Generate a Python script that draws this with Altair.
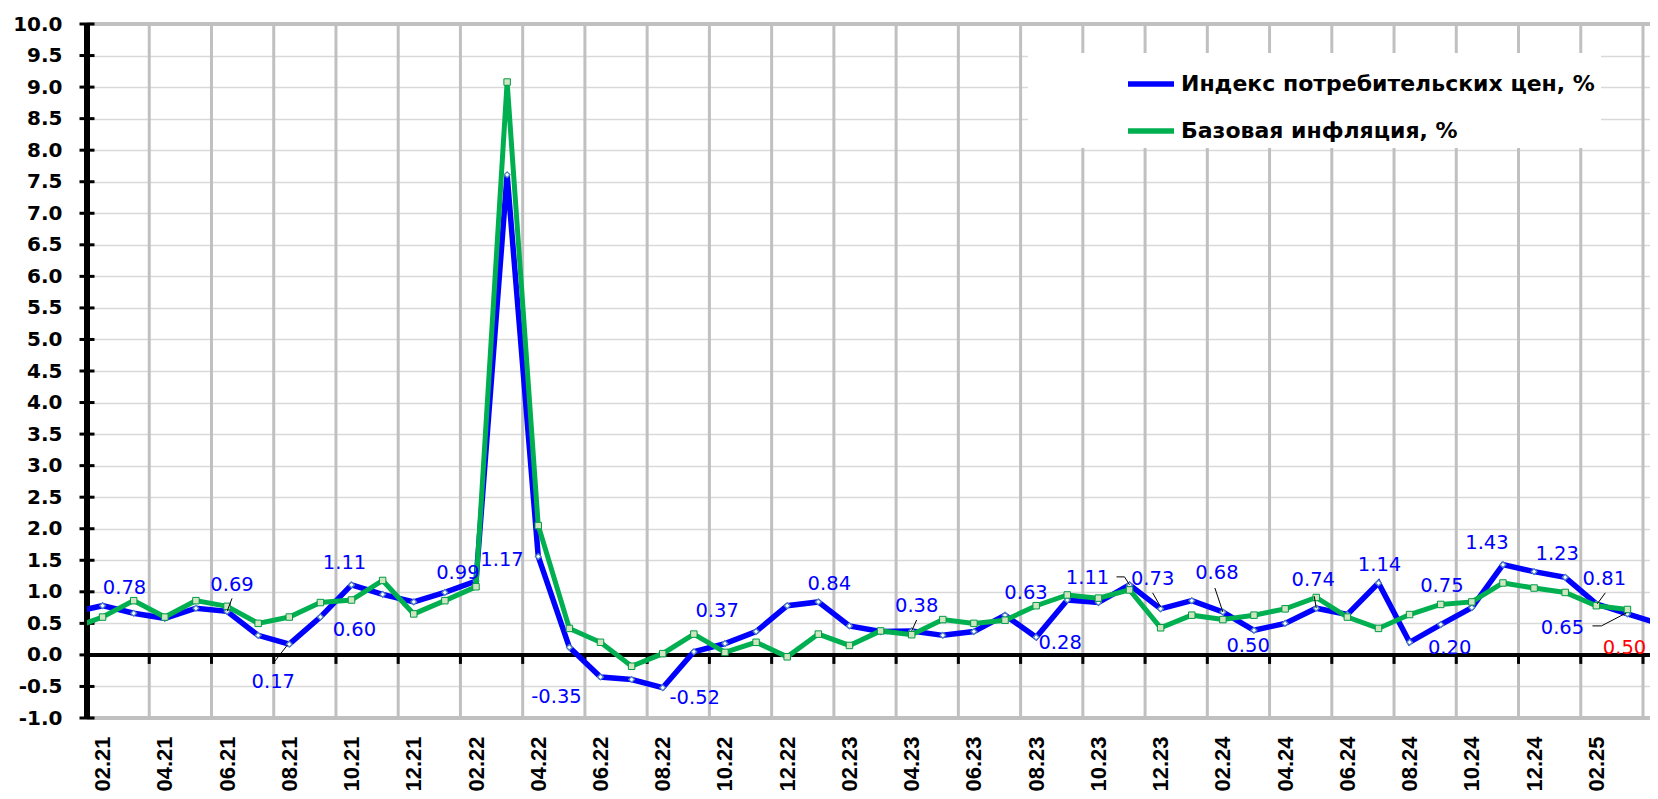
import json
import altair as alt
import pandas as pd

# ---------------- data ----------------
months = ["01.21", "02.21", "03.21", "04.21", "05.21", "06.21", "07.21", "08.21", "09.21", "10.21", "11.21", "12.21",
          "01.22", "02.22", "03.22", "04.22", "05.22", "06.22", "07.22", "08.22", "09.22", "10.22", "11.22", "12.22",
          "01.23", "02.23", "03.23", "04.23", "05.23", "06.23", "07.23", "08.23", "09.23", "10.23", "11.23", "12.23",
          "01.24", "02.24", "03.24", "04.24", "05.24", "06.24", "07.24", "08.24", "09.24", "10.24", "11.24", "12.24",
          "01.25", "02.25", "03.25", "04.25"]

cpi = [0.67, 0.78, 0.66, 0.58, 0.74, 0.69, 0.31, 0.17, 0.60, 1.11, 0.96, 0.84,
       0.99, 1.17, 7.61, 1.56, 0.12, -0.35, -0.39, -0.52, 0.05, 0.18, 0.37, 0.78,
       0.84, 0.46, 0.37, 0.38, 0.31, 0.37, 0.63, 0.28, 0.87, 0.83, 1.11, 0.73,
       0.86, 0.68, 0.39, 0.50, 0.74, 0.64, 1.14, 0.20, 0.48, 0.75, 1.43, 1.32,
       1.23, 0.81, 0.65, 0.50]

core = [0.42, 0.60, 0.86, 0.60, 0.86, 0.77, 0.50, 0.60, 0.83, 0.87, 1.18, 0.65,
        0.86, 1.08, 9.08, 2.05, 0.42, 0.20, -0.18, 0.02, 0.33, 0.04, 0.20, -0.03,
        0.33, 0.15, 0.38, 0.32, 0.56, 0.50, 0.55, 0.78, 0.95, 0.90, 1.03, 0.43,
        0.63, 0.56, 0.63, 0.73, 0.91, 0.60, 0.42, 0.64, 0.80, 0.84, 1.14, 1.06,
        0.99, 0.78, 0.72, None]

series_names = ["Индекс потребительских цен, %", "Базовая инфляция, %"]

y_ticks = [-1.0, -0.5, 0.0, 0.5, 1.0, 1.5, 2.0, 2.5, 3.0, 3.5, 4.0, 4.5, 5.0,
           5.5, 6.0, 6.5, 7.0, 7.5, 8.0, 8.5, 9.0, 9.5, 10.0]

# data labels on the CPI series: month index, pixel offset from the point
label_month = [1, 5, 7, 8, 9, 12, 13, 17, 19, 22, 24, 27, 30, 31, 34, 35, 37, 39, 40, 42, 43, 45, 46, 48, 49, 50, 51]
label_dx = [22, 5, -16, 34, -7, 13, 26, -44, 32, -39, 11, 5, 21, 24, -42, -8, -6, -37, -3, 1, 40, -30, -16, -8, 8, -65, -34]
label_dy = [-18, -26, 38, 13, -22, -19, -21, 20, 10, -21, -18, -25, -22, 6, -7, -30, -39, 23, -28, -18, 6, -22, -22, -23, -25, 14, 25]
label_red = [51]

# leader lines: month index, start offset (px), end offset (px)
leader_month = [5, 7, 27, 34, 34, 35, 37, 40, 49, 50, 50]
leader_from = [(0, 0), (-2, 1), (0, 0), (0, 0), (-5, -8), (0, -2), (0, 0), (0, 0), (1, 0), (-1, -1), (-26, 12)]
leader_to = [(5, -13), (-16, 19), (5, -11), (-5, -8), (-13, -8), (-8, -16), (-8, -24), (-2, -12), (9, -11), (-26, 12), (-35, 12)]

# ---------------- geometry ----------------
PLOT_W, PLOT_H = 1563, 694
X_MIN = 0.5
PX_PER_MONTH = 31.12
X_MAX = X_MIN + PLOT_W / PX_PER_MONTH
Y_MIN, Y_MAX = -1.0, 10.0
PX_PER_UNIT = PLOT_H / (Y_MAX - Y_MIN)

BLUE = "#0000ff"
GREEN = "#00b050"
GRID_V = "#c0c0c0"
GRID_H = "#d9d9d9"

idx = list(range(len(months)))
df_cpi = pd.DataFrame({"m": idx, "v": cpi, "s": series_names[0]})
df_core = pd.DataFrame({"m": idx, "v": core, "s": series_names[1]})
df_grid = pd.DataFrame({"g": [k + 0.5 for k in range(2, len(months), 2)]})
df_yt = pd.DataFrame({"t": y_ticks})

df_lab = pd.DataFrame({
    "lx": [m + dx / PX_PER_MONTH for m, dx in zip(label_month, label_dx)],
    "ly": [cpi[m] - dy / PX_PER_UNIT for m, dy in zip(label_month, label_dy)],
    "txt": [f"{cpi[m]:.2f}" for m in label_month],
    "c": ["#ff0000" if m in label_red else BLUE for m in label_month],
})

df_lead = pd.DataFrame({
    "x1": [m + a[0] / PX_PER_MONTH for m, a in zip(leader_month, leader_from)],
    "y1": [cpi[m] - a[1] / PX_PER_UNIT for m, a in zip(leader_month, leader_from)],
    "x2": [m + b[0] / PX_PER_MONTH for m, b in zip(leader_month, leader_to)],
    "y2": [cpi[m] - b[1] / PX_PER_UNIT for m, b in zip(leader_month, leader_to)],
})

xscale = alt.Scale(domain=[X_MIN, X_MAX], nice=False, zero=False)
yscale = alt.Scale(domain=[Y_MIN, Y_MAX], nice=False, zero=False)

xaxis = alt.Axis(
    values=[i for i in idx if i % 2 == 1],
    labelExpr=json.dumps(months) + "[datum.value]",
    labelAngle=270, labelFont="Liberation Sans", labelFontSize=22, labelFontWeight="bold",
    labelColor="black", labelPadding=18, ticks=False, domain=False, grid=False,
    labelOverlap=False, labelFlush=False, title=None,
)
yaxis = alt.Axis(
    values=y_ticks,
    labelExpr="datum.value < 0 ? '-' + format(-datum.value, '.1f') : format(datum.value, '.1f')",
    labelFont="DejaVu Sans", labelFontSize=20, labelFontWeight="bold", labelColor="black",
    labelPadding=25, ticks=False, domain=False, grid=True, gridColor=GRID_H, gridWidth=1.3,
    labelOverlap=False, labelFlush=False, title=None, tickCount=23,
)


def X(field):
    return alt.X(field, type="quantitative", scale=xscale, axis=xaxis)


def Y(field):
    return alt.Y(field, type="quantitative", scale=yscale, axis=yaxis)


def XD(v):
    return alt.XDatum(v, type="quantitative", scale=xscale, axis=xaxis)


def YD(v):
    return alt.YDatum(v, type="quantitative", scale=yscale, axis=yaxis)


color_enc = alt.Color(
    "s:N",
    scale=alt.Scale(domain=series_names, range=[BLUE, GREEN]),
    legend=alt.Legend(
        title=None, orient="none", legendX=941, legendY=29,
        symbolType="stroke", symbolSize=2116, symbolStrokeWidth=5.5,
        labelFont="DejaVu Sans", labelFontSize=22, labelFontWeight="bold", labelColor="black",
        labelLimit=900, labelOffset=4, rowPadding=10, padding=5, symbolOffset=92,
        fillColor="white", strokeColor="white",
        labelExpr="datum.label + '" + "\u00a0" * 9 + "'",
    ),
)

vgrid = alt.Chart(df_grid).mark_rule(color=GRID_V, strokeWidth=3).encode(x=X("g"))
top_border = alt.Chart(df_yt).mark_rule(color=GRID_V, strokeWidth=3).encode(y=YD(Y_MAX))
bot_border = alt.Chart(df_yt).mark_rule(color=GRID_V, strokeWidth=3).encode(y=YD(Y_MIN))
zero_line = alt.Chart(df_yt).mark_rule(color="black", strokeWidth=4).encode(y=YD(0))
zero_ticks = alt.Chart(df_grid).mark_tick(orient="vertical", size=9, thickness=3, yOffset=4.5,
                                          color="black", opacity=1).encode(x=X("g"), y=YD(0))
y_line = alt.Chart(df_yt).mark_rule(color="black", strokeWidth=5).encode(x=XD(X_MIN))
y_cross = alt.Chart(df_yt).mark_tick(orient="horizontal", size=15, thickness=3, color="black",
                                     opacity=1).encode(x=XD(X_MIN), y=Y("t"))

cpi_line = alt.Chart(df_cpi).mark_line(strokeWidth=5.5, clip=True).encode(x=X("m"), y=Y("v"), color=color_enc)
cpi_pts = alt.Chart(df_cpi).mark_point(shape="diamond", filled=True, fill="white", stroke="#4f81bd",
                                       strokeWidth=1.3, size=34, opacity=1, clip=True).encode(x=X("m"), y=Y("v"))
core_line = alt.Chart(df_core).mark_line(strokeWidth=5, clip=True).encode(x=X("m"), y=Y("v"), color=color_enc)
core_pts = alt.Chart(df_core).mark_point(shape="square", filled=True, fill="#cfe6c1", stroke="#009a45",
                                         strokeWidth=1, size=42, opacity=1, clip=True).encode(x=X("m"), y=Y("v"))

leaders = alt.Chart(df_lead).mark_rule(color="black", strokeWidth=1).encode(
    x=X("x1"), y=Y("y1"), x2="x2:Q", y2="y2:Q")
labels = alt.Chart(df_lab).mark_text(font="DejaVu Sans", fontSize=19.5, align="center", baseline="middle").encode(
    x=X("lx"), y=Y("ly"), text="txt:N", color=alt.Color("c:N", scale=None))

chart = alt.layer(
    vgrid, top_border, bot_border, zero_line, zero_ticks, y_line, y_cross,
    cpi_line, cpi_pts, core_line, core_pts, leaders, labels,
).properties(
    width=PLOT_W, height=PLOT_H,
    autosize=alt.AutoSizeParams(type="none"),
    padding={"left": 79, "top": 16, "right": 0, "bottom": 79},
    background="white",
).configure_view(strokeWidth=0)

chart.save("out.html", embed_options={"renderer": "svg", "actions": False})
